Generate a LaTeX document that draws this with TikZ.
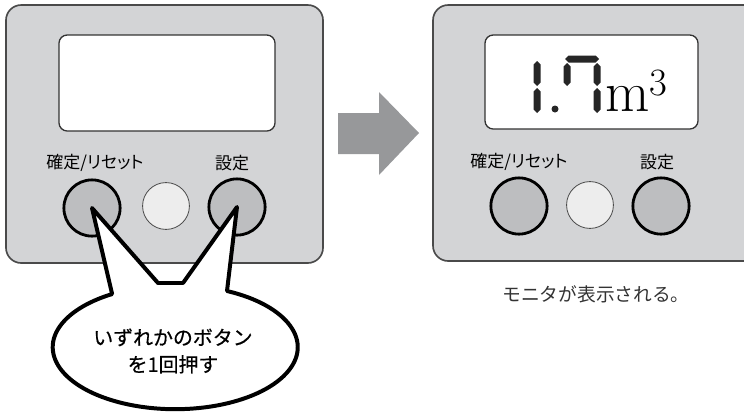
\documentclass[tikz,border=0pt]{standalone}
\usepackage{fontspec}
\newfontfamily\jp[RawFeature=+palt]{Noto Sans CJK JP}
\newfontfamily\jpw[FakeBold=0.5]{Noto Sans CJK JP}
\newfontfamily\jpn{Noto Sans CJK JP}
\usetikzlibrary{positioning}

\definecolor{panelgray}{HTML}{D3D4D6}
\definecolor{paneledge}{HTML}{4A4A4A}
\definecolor{btngray}{HTML}{BDBEC0}
\definecolor{ledwhite}{HTML}{EDEDED}
\definecolor{arrowgray}{HTML}{97989A}

\tikzset{
  panel/.style={draw=paneledge, fill=panelgray, line width=1.4pt, rounded corners=13pt},
  lcd/.style={draw=black!80, fill=white, line width=1.1pt, rounded corners=7pt},
  keybtn/.style={circle, draw=black, fill=btngray, line width=2.4pt, minimum size=48pt, inner sep=0pt},
  ledbtn/.style={circle, draw=black!70, fill=ledwhite, line width=0.7pt, minimum size=40pt, inner sep=0pt},
  keylabel/.style={font=\jp\fontsize{14.5}{16}\selectfont, inner sep=0pt},
  seg/.style={fill=black!85},
  bubble/.style={draw=black, fill=white, line width=3.4pt, line join=round},
}

% seven segment pieces: x, top, bottom / y, left, right
\newcommand{\lcdvseg}[3]{\fill[seg] (#1,#2) -- (#1+3.5,#2+3.5) -- (#1+3.5,#3-3.5) -- (#1,#3) -- (#1-3.5,#3-3.5) -- (#1-3.5,#2+3.5) -- cycle;}
\newcommand{\lcdhseg}[3]{\fill[seg] (#2,#1) -- (#2+3.5,#1-3.5) -- (#3-3.5,#1-3.5) -- (#3,#1) -- (#3-3.5,#1+3.5) -- (#2+3.5,#1+3.5) -- cycle;}

\begin{document}
\begin{tikzpicture}[x=0.03cm, y=-0.03cm]
\useasboundingbox (0,0) rectangle (744,414);

% Panels
\draw[panel] (6,5) rectangle (323,263);
\draw[panel] (433,5) rectangle (760,261);

% Displays
\draw[lcd] (59,35) rectangle (275,131);
\draw[lcd] (485,35) rectangle (698,129);

% Reading 1.7 m3
\lcdvseg{537}{61}{86}
\lcdvseg{537}{88}{113}
\fill[seg] (555,109) circle (3.5);
\lcdhseg{59}{565}{599}
\lcdvseg{567}{63}{86}
\lcdvseg{597}{63}{86}
\lcdvseg{597}{88}{113}
\node[anchor=base west, inner sep=0pt, font=\fontsize{49}{49}\selectfont] (unit) at (605,111) {m\raisebox{13pt}{\fontsize{33}{33}\selectfont 3}};

% Buttons, before
\node[keylabel] (lreset) at (95,163) {確定/リセット};
\node[keylabel] (lset) at (232,163) {設定};
\node[keybtn] (lkeyA) at (92,208) {};
\node[ledbtn] (lled) at (166,206) {};
\node[keybtn] (lkeyB) at (237,207) {};

% Buttons, after
\node[keylabel] (rreset) at (519,162) {確定/リセット};
\node[keylabel] (rset) at (657,162) {設定};
\node[keybtn] (rkeyA) at (519,206) {};
\node[ledbtn] (rled) at (590,205) {};
\node[keybtn] (rkeyB) at (661,206) {};

% Arrow
\fill[arrowgray] (338,113) -- (379,113) -- (379,92) -- (419,133) -- (379,175) -- (379,154) -- (338,154) -- cycle;

% Speech bubble
\draw[bubble] (lkeyA.center) -- (158,283) -- (183,283) -- (lkeyB.center) -- (227,291)
  arc[start angle=-65, end angle=239, x radius=122.5, y radius=62] -- cycle;
\node[font=\jpw\fontsize{17}{23}\selectfont, align=center] (hint) at (173,351) {いずれかのボタン\\を1回押す};

\node[font=\jpn\fontsize{16}{18}\selectfont, text=black!80] (note) at (596,294) {モニタが表示される。};
\end{tikzpicture}
\end{document}
